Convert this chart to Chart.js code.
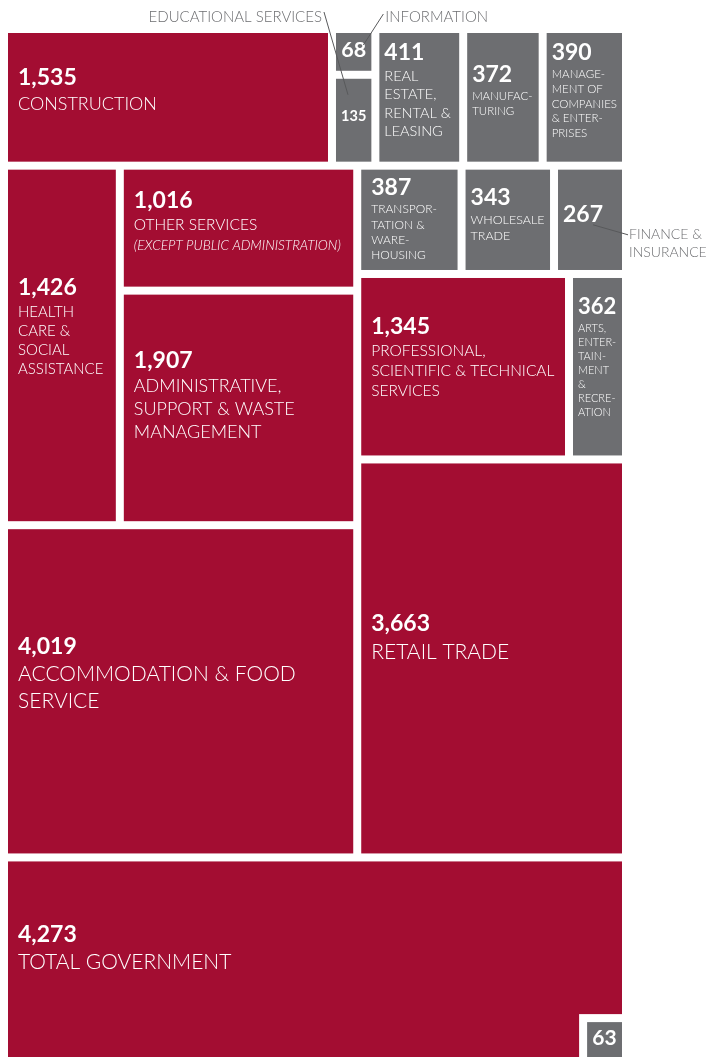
<!DOCTYPE html>
<html>
<head>
<meta charset="utf-8">
<script src="https://cdn.jsdelivr.net/npm/chart.js@4.4.0/dist/chart.umd.min.js"></script>
<style>
  html, body { margin: 0; padding: 0; background: #fff; }
  canvas { display: block; }
</style>
</head>
<body>
<canvas id="treemap" width="706" height="1057"></canvas>
<script>
// sectors and their counts
const categories = [
  "CONSTRUCTION", "INFORMATION", "EDUCATIONAL SERVICES", "REAL ESTATE, RENTAL & LEASING",
  "MANUFACTURING", "MANAGEMENT OF COMPANIES & ENTERPRISES",
  "HEALTH CARE & SOCIAL ASSISTANCE", "OTHER SERVICES (EXCEPT PUBLIC ADMINISTRATION)",
  "ADMINISTRATIVE, SUPPORT & WASTE MANAGEMENT",
  "TRANSPORTATION & WAREHOUSING", "WHOLESALE TRADE", "FINANCE & INSURANCE",
  "PROFESSIONAL, SCIENTIFIC & TECHNICAL SERVICES", "ARTS, ENTERTAINMENT & RECREATION",
  "ACCOMMODATION & FOOD SERVICE", "RETAIL TRADE", "TOTAL GOVERNMENT", ""
];
const values = [1535, 68, 135, 411, 372, 390, 1426, 1016, 1907, 387, 343, 267, 1345, 362, 4019, 3663, 4273, 63];

// nesting of the treemap (indices into categories); sizes come from values
const tree = ["v", [
  ["h", [0, ["v", [1, 2]], 3, 4, 5]],
  ["h", [
    ["v", [["h", [6, ["v", [7, 8]]]], 14]],
    ["v", [["h", [9, 10, 11]], ["h", [12, 13]], 15]]
  ]],
  ["corner", [16, 17]]
]];

// labels drawn outside their cell
const callouts = { "INFORMATION": "topRight", "EDUCATIONAL SERVICES": "topLeft", "FINANCE & INSURANCE": "right" };
const hyphens = {
  "MANUFACTURING": "MANUFAC\u00ADTURING", "ENTERTAINMENT": "ENTER\u00ADTAIN\u00ADMENT",
  "RECREATION": "RECRE\u00ADATION", "TRANSPORTATION": "TRANSPOR\u00ADTATION",
  "WAREHOUSING": "WARE\u00ADHOUSING", "MANAGEMENT": "MANAGE\u00ADMENT",
  "COMPANIES": "COMPA\u00ADNIES", "ENTERPRISES": "ENTER\u00ADPRISES"
};

const RED = "#a30d32";
const GRAY = "#6d6e71";
const GAP = 8;
const total = values.reduce((a, b) => a + b, 0);

function nodeValue(n) {
  if (typeof n === "number") return values[n];
  return n[1].reduce((s, c) => s + nodeValue(c), 0);
}

// slice-and-dice layout in data units (x: 0..1, y: 0..total)
function layout(n, x0, y0, x1, y1, out, ratio) {
  if (typeof n === "number") { out.push({ i: n, x0, y0, x1, y1 }); return; }
  const [dir, kids] = n;
  if (dir === "corner") {
    const v = values[kids[1]];
    const hy = Math.sqrt(v * ratio), wx = v / hy;
    out.push({ i: kids[0], x0, y0, x1, y1 });
    out.push({ i: kids[1], x0: x1 - wx, y0: y1 - hy, x1, y1, corner: true });
    return;
  }
  const sum = nodeValue(n);
  let pos = dir === "h" ? x0 : y0;
  kids.forEach(k => {
    const f = nodeValue(k) / sum;
    if (dir === "h") {
      const nx = pos + (x1 - x0) * f;
      layout(k, pos, y0, nx, y1, out, ratio); pos = nx;
    } else {
      const ny = pos + (y1 - y0) * f;
      layout(k, x0, pos, x1, ny, out, ratio); pos = ny;
    }
  });
}

function clean(s) { return s.replace(/\u00AD/g, ""); }

function wrap(ctx, text, maxW) {
  const words = text.split(" ").map(w => hyphens[w] || w);
  const W = s => ctx.measureText(clean(s)).width;
  const lines = [];
  let line = "";
  for (let word of words) {
    while (true) {
      const cand = line ? line + " " + word : word;
      if (W(cand) <= maxW) { line = cand; break; }
      const parts = word.split("\u00AD");
      let placed = false;
      for (let k = parts.length - 1; k >= 1; k--) {
        const pre = parts.slice(0, k).join("") + "-";
        const c2 = line ? line + " " + pre : pre;
        if (W(c2) <= maxW) {
          lines.push(c2); word = parts.slice(k).join("\u00AD"); line = ""; placed = true; break;
        }
      }
      if (placed) continue;
      if (line) { lines.push(line); line = ""; continue; }
      line = word; break;
    }
  }
  if (line) lines.push(line);
  return lines.map(clean);
}

function baseLabelSize(v) {
  if (v >= 3000) return 21;
  if (v >= 1500) return 18;
  if (v >= 1000) return 15.5;
  return 14.5;
}

function drawCell(ctx, r) {
  const v = values[r.i], name = categories[r.i];
  const w = r.x1 - r.x0, h = r.y1 - r.y0;
  ctx.fillStyle = v >= 1000 ? RED : GRAY;
  ctx.fillRect(r.x0, r.y0, w, h);

  const pad = w > 90 ? 10 : 5;
  const inner = w - 2 * pad;
  const num = v.toLocaleString("en-US");
  let ns = 23;
  ctx.font = `700 ${ns}px Lato`;
  while (ctx.measureText(num).width > inner && ns > 9) { ns -= 0.5; ctx.font = `700 ${ns}px Lato`; }

  let main = name, note = "";
  const p = name.indexOf(" (");
  if (p > 0) { main = name.slice(0, p); note = name.slice(p + 1); }
  const showLabel = name && !callouts[name];

  let ls = baseLabelSize(v), lines = [], noteLines = [];
  if (showLabel) {
    for (; ls >= 9; ls -= 0.5) {
      ctx.font = `300 ${ls}px Lato`;
      lines = wrap(ctx, main, inner);
      let ok = lines.every(l => ctx.measureText(l).width <= inner);
      if (note) {
        ctx.font = `italic 300 ${ls * 0.88}px Lato`;
        noteLines = wrap(ctx, note, inner);
        ok = ok && noteLines.every(l => ctx.measureText(l).width <= inner);
      }
      const bh = ns + 3 + (lines.length + noteLines.length) * ls * 1.28;
      if (ok && bh <= h - 12) break;
    }
  }
  const nLines = lines.length + noteLines.length;
  const blockH = ns + (nLines ? 3 + nLines * ls * 1.28 : 0);
  const top = Math.max(r.y0 + 6, r.y0 + h * 0.45 - blockH / 2);
  const centered = w < 60 && !nLines;

  ctx.fillStyle = "#fff";
  ctx.textBaseline = "middle";
  ctx.textAlign = centered ? "center" : "left";
  const tx = centered ? (r.x0 + r.x1) / 2 : r.x0 + pad;
  ctx.font = `700 ${ns}px Lato`;
  const numY = top + ns / 2;
  ctx.fillText(num, tx, numY);
  r.numY = numY; r.numRight = tx + (centered ? ctx.measureText(num).width / 2 : ctx.measureText(num).width);

  let y = numY + ns / 2 + 3 + ls * 0.64;
  ctx.font = `300 ${ls}px Lato`;
  lines.forEach(l => { ctx.fillText(l, tx, y); y += ls * 1.28; });
  ctx.font = `italic 300 ${ls * 0.88}px Lato`;
  noteLines.forEach(l => { ctx.fillText(l, tx, y); y += ls * 1.28; });
}

function drawCallout(ctx, r) {
  const name = categories[r.i], side = callouts[name];
  if (!side) return;
  ctx.save();
  ctx.strokeStyle = "#58595b";
  ctx.lineWidth = 1;
  ctx.fillStyle = GRAY;
  ctx.font = "300 15px Lato";
  ctx.textBaseline = "middle";
  const ty = 17;
  ctx.beginPath();
  if (side === "topRight") {
    const sx = r.x1 + 14;
    ctx.moveTo(r.x1 - 8, r.y0 + 12);
    ctx.lineTo(sx - 2, ty - 3);
    ctx.stroke();
    ctx.textAlign = "left";
    ctx.fillText(name, sx, ty);
  } else if (side === "topLeft") {
    const ex = r.x0 - 14;
    ctx.moveTo(ex + 2, ty - 5);
    ctx.lineTo(r.x0 + 12, r.y0 + 16);
    ctx.stroke();
    ctx.textAlign = "right";
    ctx.fillText(name, ex, ty);
  } else {
    ctx.font = "300 14px Lato";
    const sx = r.x1 + 7, y1 = r.numY + 20;
    const parts = wrap(ctx, name, 706 - sx - 1);
    ctx.moveTo(r.numRight - 10, r.numY + 10);
    ctx.lineTo(sx - 1, y1);
    ctx.stroke();
    ctx.textAlign = "left";
    parts.forEach((l, k) => ctx.fillText(l, sx, y1 + k * 18));
  }
  ctx.restore();
}

const treemapCells = {
  id: "treemapCells",
  afterDatasetsDraw(chart) {
    const { ctx, scales: { x, y } } = chart;
    const pxX = x.getPixelForValue(1) - x.getPixelForValue(0);
    const pxY = y.getPixelForValue(1) - y.getPixelForValue(0);
    const cells = [];
    layout(tree, 0, 0, 1, total, cells, pxX / pxY);
    const half = GAP / 2;
    const rects = cells.map(c => ({
      i: c.i, corner: c.corner,
      x0: x.getPixelForValue(c.x0) + half, x1: x.getPixelForValue(c.x1) - half,
      y0: y.getPixelForValue(c.y0) + half, y1: y.getPixelForValue(c.y1) - half
    }));
    ctx.save();
    rects.forEach(r => {
      if (r.corner) {
        ctx.fillStyle = "#fff";
        ctx.fillRect(r.x0 - GAP, r.y0 - GAP, r.x1 - r.x0 + GAP + half, r.y1 - r.y0 + GAP + half);
      }
      drawCell(ctx, r);
    });
    rects.forEach(r => drawCallout(ctx, r));
    ctx.restore();
  }
};

const canvas = document.getElementById("treemap");
const plotTop = 29, plotBottom = 1057;
new Chart(canvas, {
  type: "scatter",
  data: { datasets: [{ data: [] }] },
  options: {
    responsive: false,
    animation: false,
    events: [],
    layout: { padding: { left: 4, right: 80, top: plotTop, bottom: 0 } },
    scales: {
      x: { type: "linear", min: 0, max: 1, display: false },
      // the last 4px of the map fall just below the canvas edge, as in the original
      y: { type: "linear", min: 0, max: total * (plotBottom - plotTop) / (plotBottom - plotTop + 4), reverse: true, display: false }
    },
    plugins: { legend: { display: false }, tooltip: { enabled: false } }
  },
  plugins: [treemapCells]
});
</script>
</body>
</html>
